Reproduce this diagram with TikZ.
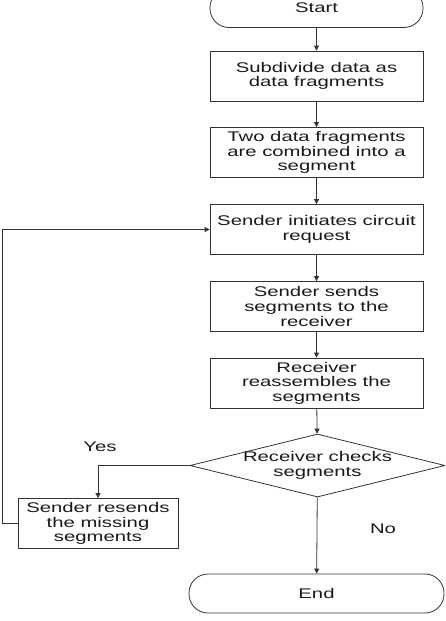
\documentclass[tikz,border=0pt]{standalone}
\usepackage{fontspec}
\setmainfont{Liberation Sans}[FakeStretch=1.45]
\usetikzlibrary{shapes.geometric,arrows.meta}

\begin{document}
\begin{tikzpicture}[x=1pt,y=-1pt,
    every node/.style={font=\fontsize{14}{14.6}\selectfont, text=black!90, align=center},
    procbox/.style={draw=black!80, line width=0.8pt, minimum width=213pt, minimum height=50pt, inner sep=0pt},
    termbox/.style={draw=black!80, line width=0.8pt, rounded corners=19pt, minimum height=39pt, inner sep=0pt},
    decbox/.style={draw=black!80, line width=0.8pt, diamond, aspect=4.05, minimum width=255pt, minimum height=63pt, inner sep=-4pt},
    flow/.style={draw=black!80, line width=0.8pt, -{Triangle[length=5pt,width=5pt]}}]
  \clip (0,0) rectangle (445,621);
  % main column
  \node[termbox, minimum width=213pt] (start) at (316.5,8) {Start};
  \node[procbox] (subdiv) at (316.5,76) {Subdivide data as\\data fragments};
  \node[procbox] (combine) at (316.5,152.5) {Two data fragments\\are combined into a\\segment};
  \node[procbox] (initiate) at (316.5,229.5) {Sender initiates circuit\\request};
  \node[procbox] (sends) at (316.5,306.5) {Sender sends\\segments to the\\receiver};
  \node[procbox] (reassemble) at (316.5,383) {Receiver\\reassembles the\\segments};
  \node[decbox] (check) at (317.5,465.5) {Receiver checks\\segments};
  \node[termbox, minimum width=255pt] (stop) at (316.5,593.5) {End};
  % retry branch
  \node[procbox, minimum width=160pt] (resend) at (98,523.5) {Sender resends\\the missing\\segments};
  \node (yes) at (100,447) {Yes};
  \node (no) at (383,529) {No};

  \draw[flow] (start) -- (subdiv);
  \draw[flow] (subdiv) -- (combine);
  \draw[flow] (combine) -- (initiate);
  \draw[flow] (initiate) -- (sends);
  \draw[flow] (sends) -- (reassemble);
  \draw[flow] (reassemble) -- (check);
  \draw[flow] (check) -- (stop);
  \draw[flow] (check.west) -| (resend.north);
  \draw[flow] (resend.west) -- ++(-15,0) |- (initiate.west);
\end{tikzpicture}
\end{document}
